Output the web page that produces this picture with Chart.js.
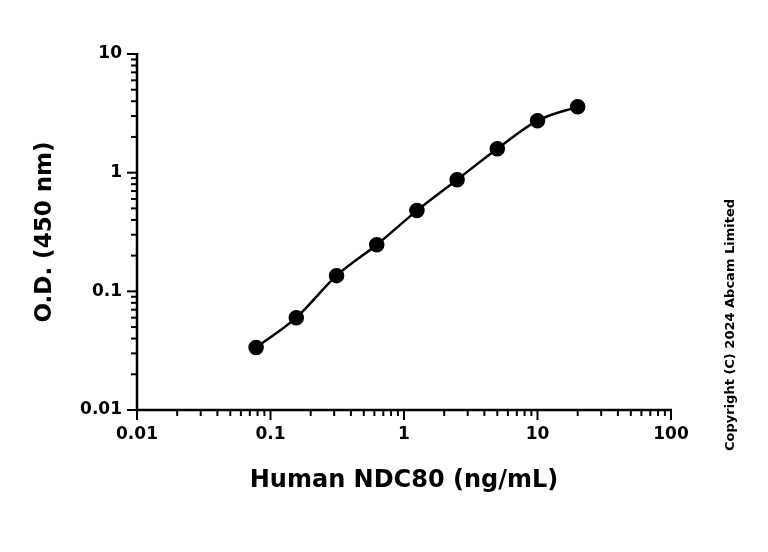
<!DOCTYPE html><html><head><meta charset="utf-8">
<script src="https://cdn.jsdelivr.net/npm/chart.js@4/dist/chart.umd.min.js"></script>
<style>body{margin:0;background:#fff}#w{width:768px;height:552px}</style></head><body><div id="w"><canvas id="c"></canvas></div>
<script>
const concentrations=[0.078,0.156,0.3125,0.625,1.25,2.5,5,10,20];
const odValues=[0.0336,0.060,0.1356,0.247,0.479,0.873,1.59,2.74,3.60];
const xTickLabels=[0.01,0.1,1,10,100];
const yTickLabels=[0.01,0.1,1,10];
const F='"DejaVu Sans", sans-serif';
function allTicks(lo,hi){const t=[];for(let d=lo;d<hi*1.0001;d*=10){for(let m=1;m<10;m++){const v=+(m*d).toPrecision(3);if(v<=hi*1.0001)t.push(v);}}return t;}
const deco={id:'deco',afterDraw(ch){const c=ch.ctx,x=ch.scales.x,y=ch.scales.y,a=ch.chartArea;c.save();c.strokeStyle='#000';c.lineWidth=2.5;
c.beginPath();c.moveTo(a.left,a.top-1);c.lineTo(a.left,a.bottom);c.lineTo(a.right+1,a.bottom);c.stroke();
c.lineWidth=2;
allTicks(0.01,100).forEach(v=>{const p=x.getPixelForValue(v);const maj=xTickLabels.includes(v);c.beginPath();c.moveTo(p,a.bottom);c.lineTo(p,a.bottom+(maj?10:6));c.stroke();});
allTicks(0.01,10).forEach(v=>{const p=y.getPixelForValue(v);const maj=yTickLabels.includes(v);c.beginPath();c.moveTo(a.left,p);c.lineTo(a.left-(maj?10:6),p);c.stroke();});
c.fillStyle='#000';c.font='bold 17px '+F;c.textAlign='center';c.textBaseline='top';
xTickLabels.forEach(v=>c.fillText(String(v),x.getPixelForValue(v),a.bottom+16));
c.textAlign='right';c.textBaseline='middle';
yTickLabels.forEach(v=>c.fillText(String(v),a.left-15,y.getPixelForValue(v)));
c.font='bold 24px '+F;c.textAlign='center';c.fillText('Human NDC80 (ng/mL)',(a.left+a.right)/2,481);
c.save();c.translate(45,232);c.rotate(-Math.PI/2);c.font='bold 23px '+F;c.fillText('O.D. (450 nm)',0,0);c.restore();
c.save();c.translate(731,325);c.rotate(-Math.PI/2);c.font='bold 13px '+F;c.fillText('Copyright (C) 2024 Abcam Limited',0,0);c.restore();
c.restore();}};
new Chart(document.getElementById('c'),{type:'line',
data:{datasets:[{data:concentrations.map((x,i)=>({x,y:odValues[i]})),borderColor:'#000',backgroundColor:'#000',borderWidth:2.5,pointRadius:6.5,pointHoverRadius:6.5,tension:0.4,cubicInterpolationMode:'monotone'}]},
options:{responsive:true,maintainAspectRatio:false,animation:false,events:[],
layout:{padding:{top:54,right:97,left:0,bottom:0}},
plugins:{legend:{display:false},tooltip:{enabled:false}},
scales:{x:{type:'logarithmic',min:0.01,max:100,grid:{display:false},border:{display:false},ticks:{display:false},afterFit(s){s.height=142;}},
y:{type:'logarithmic',min:0.01,max:10,grid:{display:false},border:{display:false},ticks:{display:false},afterFit(s){s.width=137;}}}},
plugins:[deco]});
</script></body></html>
